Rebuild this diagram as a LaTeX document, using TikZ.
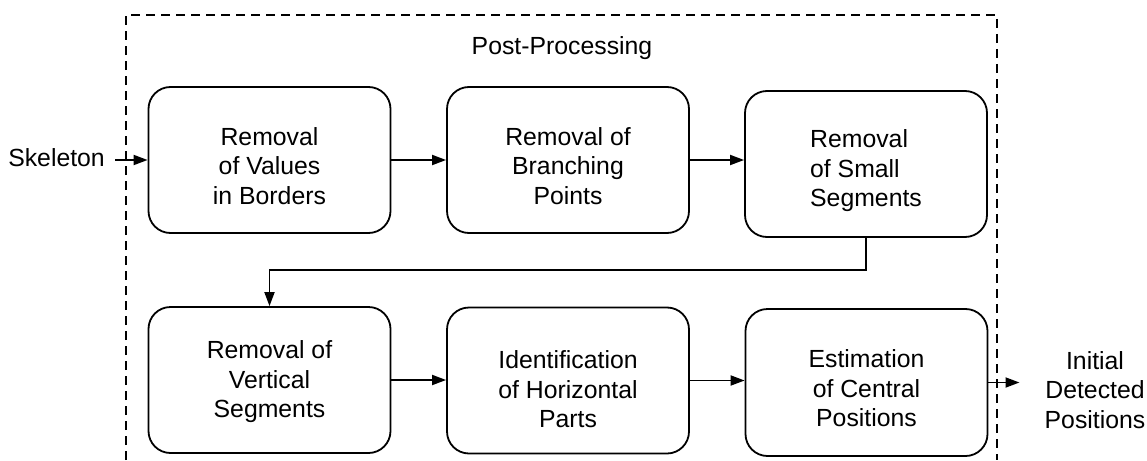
\documentclass[tikz,border=0pt]{standalone}
\usepackage{fontspec}
\setmainfont{Liberation Sans}
\usetikzlibrary{arrows.meta}
\begin{document}
\begin{tikzpicture}[x=1pt,y=-1pt,
  every node/.style={font=\fontsize{24.8}{29.5}\selectfont},
  procbox/.style={draw, line width=1.8pt, rounded corners=22pt,
    minimum width=242pt, minimum height=146pt, inner sep=0pt},
  boxtext/.style 2 args={label={[align=center, inner sep=0pt, yshift=-#1pt]center:{#2}}},
  boxtextl/.style 2 args={label={[align=left, inner sep=0pt, yshift=-#1pt]center:{#2}}},
  flow/.style={line width=1.8pt, -{Triangle[length=14pt,width=10pt]}},
  frame/.style={line width=1.8pt, dash pattern=on 9pt off 6pt}]
\useasboundingbox (0,0) rectangle (1147,460);

% dashed frame around the post-processing stage
\draw[frame] (126,460) -- (126,15) -- (997,15) -- (997,460);
\node (title) at (562,48) {Post-Processing};

% first row
\node[procbox, boxtext={6}{Removal\\of Values\\in Borders}] (b1) at (269.5,160) {};
\node[procbox, boxtext={6}{Removal of\\Branching\\Points}] (b2) at (568,160) {};
\node[procbox, boxtextl={7}{Removal\\of Small\\Segments}] (b3) at (866,164) {};

% second row
\node[procbox, boxtext={2}{Removal of\\Vertical\\Segments}] (b4) at (269.5,380) {};
\node[procbox, boxtext={9}{Identification\\of Horizontal\\Parts}] (b5) at (568,380.5) {};
\node[procbox, minimum height=147pt, boxtext={6}{Estimation\\of Central\\Positions}] (b6) at (866.5,382.5) {};

% input and output
\node[inner sep=0pt, anchor=east] (in) at (105,158) {Skeleton};
\node[align=center, inner sep=0pt] (out) at (1095,390) {Initial\\Detected\\Positions};

% connectors
\draw[flow] ([xshift=10pt]in.east |- b1.west) -- (b1.west);
\draw[flow] (b1.east) -- (b2.west);
\draw[flow] (b2.east) -- (b2.east -| b3.west);
\draw[flow] (b3.south) -- (b3.south |- 0,270) -| (b4.north);
\draw[flow] (b4.east) -- (b4.east -| b5.west);
\draw[flow] (b5.east) -- (b5.east -| b6.west);
\draw[flow] (b6.east) -- ([xshift=-25pt]out.west |- b6.east);
\end{tikzpicture}
\end{document}
